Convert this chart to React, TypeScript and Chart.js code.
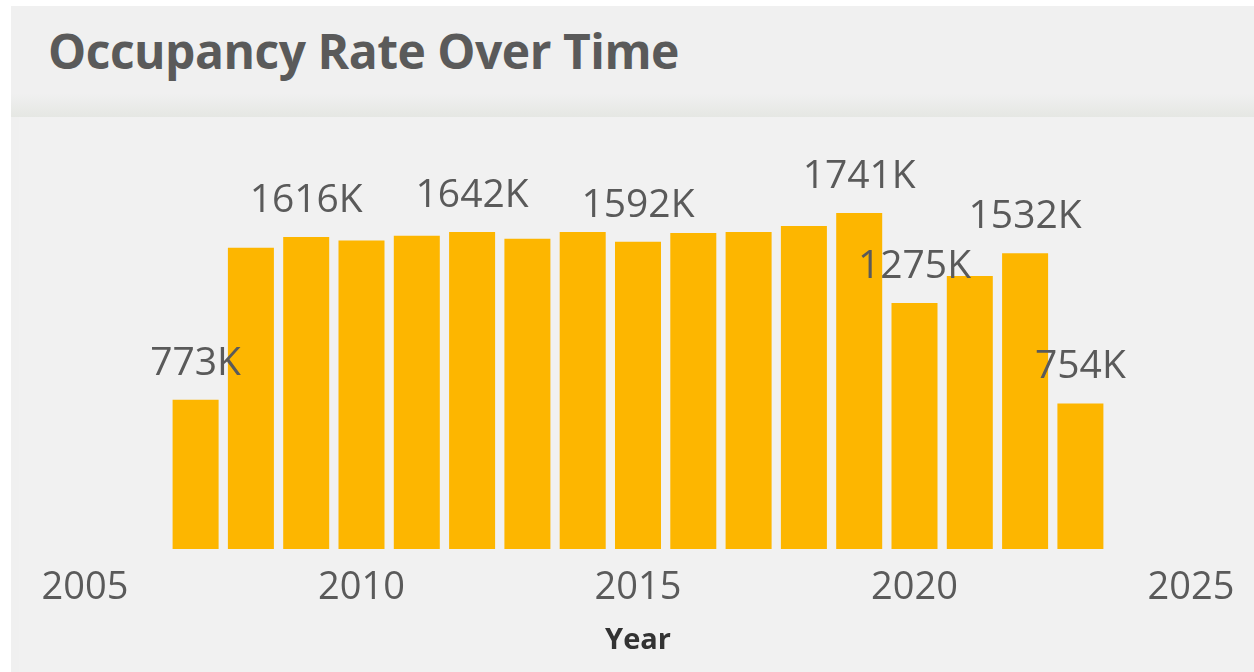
import React, { useEffect, useRef } from "react";
import { Chart, registerables } from "chart.js";

Chart.register(...registerables);

const years = [2007, 2008, 2009, 2010, 2011, 2012, 2013, 2014, 2015, 2016, 2017, 2018, 2019, 2020, 2021, 2022, 2023];
const occupancyK = [773, 1561, 1616, 1599, 1623, 1642, 1608, 1643, 1592, 1637, 1642, 1674, 1741, 1275, 1415, 1532, 754];
const labelledYears = [2007, 2009, 2012, 2015, 2019, 2020, 2022, 2023];
const xTickValues = [2005, 2010, 2015, 2020, 2025];

const TITLE = "Occupancy Rate Over Time";
const BAR_COLOR = "#FDB600";
const TEXT_COLOR = "#5a5a5a";
const FONT = "'Open Sans', 'Segoe UI', sans-serif";

const valueLabelPlugin = {
  id: "valueLabels",
  afterDatasetsDraw(chart: any) {
    const ctx = chart.ctx;
    const meta = chart.getDatasetMeta(0);
    ctx.save();
    ctx.font = `400 39px ${FONT}`;
    ctx.fillStyle = TEXT_COLOR;
    ctx.textAlign = "center";
    ctx.textBaseline = "alphabetic";
    meta.data.forEach((bar: any, i: number) => {
      if (!labelledYears.includes(years[i])) return;
      ctx.fillText(`${occupancyK[i]}K`, bar.x, bar.y - 25);
    });
    ctx.restore();
  },
};

export default function App() {
  const canvasRef = useRef<HTMLCanvasElement | null>(null);

  useEffect(() => {
    const canvas = canvasRef.current;
    if (!canvas) return;
    const chart = new Chart(canvas, {
      type: "bar",
      data: {
        datasets: [
          {
            data: years.map((y, i) => ({ x: y, y: occupancyK[i] })),
            backgroundColor: BAR_COLOR,
            borderWidth: 0,
            categoryPercentage: 1,
            barPercentage: 0.832,
          },
        ],
      },
      options: {
        responsive: false,
        animation: false,
        layout: { padding: { left: 85, right: 63, top: 163, bottom: 0 } },
        plugins: {
          legend: { display: false },
          tooltip: { enabled: false },
        },
        scales: {
          x: {
            type: "linear",
            min: 2005,
            max: 2025,
            offset: false,
            afterBuildTicks: (scale: any) => {
              scale.ticks = xTickValues.map((v) => ({ value: v }));
            },
            afterFit: (scale: any) => {
              scale.height = 123;
            },
            grid: { display: false, drawTicks: false, offset: false },
            border: { display: false },
            ticks: {
              color: TEXT_COLOR,
              font: { family: FONT, size: 38, weight: "400" },
              padding: 16,
              maxRotation: 0,
              autoSkip: false,
              callback: (v: any) => String(v),
            },
            title: {
              display: true,
              text: "Year",
              color: "#333333",
              font: { family: FONT, size: 29, weight: "700" },
              padding: { top: 0, bottom: 14 },
            },
          },
          y: {
            display: false,
            min: 0,
            max: 2000,
          },
        },
      },
      plugins: [valueLabelPlugin],
    });
    return () => chart.destroy();
  }, []);

  return (
    <div style={{ position: "fixed", left: 0, top: 0, width: 1254, height: 672, background: "#ffffff", overflow: "hidden" }}>
      <div style={{ position: "absolute", left: 11, top: 6, right: 0, bottom: 0, background: "#f0f0f0" }} />
      <div
        style={{
          position: "absolute",
          left: 11,
          top: 94,
          right: 0,
          height: 23,
          background: "linear-gradient(to bottom, #f0f0f0, #e5e7e3)",
        }}
      />
      <div style={{ position: "absolute", left: 19, top: 117, right: 0, bottom: 0, background: "#f1f1f1" }} />
      <div
        style={{
          position: "absolute",
          left: 48,
          top: 23,
          fontFamily: FONT,
          fontWeight: 700,
          fontSize: 48,
          letterSpacing: "-0.5px",
          lineHeight: "56px",
          color: TEXT_COLOR,
          whiteSpace: "nowrap",
        }}
      >
        {TITLE}
      </div>
      <canvas ref={canvasRef} width={1254} height={672} style={{ position: "absolute", left: 0, top: 0 }} />
    </div>
  );
}
